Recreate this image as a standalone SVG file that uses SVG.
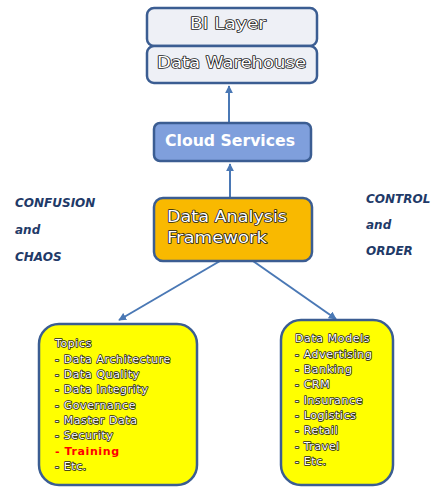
<svg xmlns="http://www.w3.org/2000/svg" width="448" height="497" viewBox="0 0 448 497">
<style>
.box{stroke:#3b5d92;stroke-width:2.5}
.top{fill:#eef0f6}
.ol{font-family:"DejaVu Sans",Verdana,sans-serif;fill:#ffffff;stroke:#1a1a1a;stroke-width:1.5;paint-order:stroke fill;stroke-linejoin:round}
.sm{font-size:11px;letter-spacing:0.6px}
.lbl{font-family:"DejaVu Sans",Verdana,sans-serif;font-size:12px;font-weight:bold;font-style:italic;fill:#1f3a68}
.conn{stroke:#4a78b5;stroke-width:2;fill:none}
</style>
<defs>
<marker id="ah" viewBox="0 0 10 10" refX="9" refY="5" markerWidth="4" markerHeight="4" orient="auto" markerUnits="strokeWidth">
<path d="M0,0 L10,5 L0,10 z" fill="#4a78b5"/>
</marker>
</defs>
<rect width="448" height="497" fill="#ffffff"/>
<g id="connectors">
<line class="conn" x1="229" y1="123" x2="229" y2="86" marker-end="url(#ah)"/>
<line class="conn" x1="230" y1="198" x2="230" y2="164" marker-end="url(#ah)"/>
<line class="conn" x1="220" y1="261" x2="119" y2="320" marker-end="url(#ah)"/>
<line class="conn" x1="253" y1="261" x2="336" y2="319" marker-end="url(#ah)"/>
</g>
<g id="bi-layer">
<rect class="box top" x="147" y="8" width="170" height="38" rx="7"/>
<text class="ol" x="228" y="29" font-size="15" text-anchor="middle" textLength="76" lengthAdjust="spacingAndGlyphs">BI Layer</text>
</g>
<g id="data-warehouse">
<rect class="box top" x="147" y="46" width="170" height="37" rx="7"/>
<text class="ol" x="157" y="68" font-size="15" textLength="149" lengthAdjust="spacingAndGlyphs">Data Warehouse</text>
</g>
<g id="cloud-services">
<rect class="box" x="154" y="123" width="157" height="38" rx="6" fill="#7f9fdc"/>
<text x="230" y="146" font-family="'DejaVu Sans',Verdana,sans-serif" font-size="16" font-weight="bold" fill="#ffffff" text-anchor="middle" textLength="130" lengthAdjust="spacingAndGlyphs">Cloud Services</text>
</g>
<g id="data-analysis-framework">
<rect class="box" x="154" y="198" width="158" height="63" rx="9" fill="#f9b900"/>
<text class="ol" x="167" y="222" font-size="16" textLength="120" lengthAdjust="spacingAndGlyphs">Data Analysis</text>
<text class="ol" x="167" y="243" font-size="16" textLength="100" lengthAdjust="spacingAndGlyphs">Framework</text>
</g>
<g id="label-left">
<text class="lbl" x="15" y="207">CONFUSION</text>
<text class="lbl" x="15" y="234">and</text>
<text class="lbl" x="15" y="261">CHAOS</text>
</g>
<g id="label-right">
<text class="lbl" x="366" y="203">CONTROL</text>
<text class="lbl" x="366" y="229">and</text>
<text class="lbl" x="366" y="255">ORDER</text>
</g>
<g id="topics">
<rect class="box" x="39" y="324" width="158" height="161" rx="20" fill="#ffff00"/>
<text class="ol sm" x="55" y="347">Topics</text>
<text class="ol sm" x="55" y="363">- Data Architecture</text>
<text class="ol sm" x="55" y="378">- Data Quality</text>
<text class="ol sm" x="55" y="393">- Data Integrity</text>
<text class="ol sm" x="55" y="409">- Governance</text>
<text class="ol sm" x="55" y="424">- Master Data</text>
<text class="ol sm" x="55" y="439">- Security</text>
<text x="55" y="455" font-family="'DejaVu Sans',Verdana,sans-serif" font-size="11" font-weight="bold" letter-spacing="0.6" fill="#ff0000">- Training</text>
<text class="ol sm" x="55" y="470">- Etc.</text>
</g>
<g id="data-models">
<rect class="box" x="281" y="320" width="112" height="165" rx="20" fill="#ffff00"/>
<text class="ol sm" x="295" y="342">Data Models</text>
<text class="ol sm" x="295" y="358">- Advertising</text>
<text class="ol sm" x="295" y="373">- Banking</text>
<text class="ol sm" x="295" y="388">- CRM</text>
<text class="ol sm" x="295" y="404">- Insurance</text>
<text class="ol sm" x="295" y="419">- Logistics</text>
<text class="ol sm" x="295" y="434">- Retail</text>
<text class="ol sm" x="295" y="450">- Travel</text>
<text class="ol sm" x="295" y="465">- Etc.</text>
</g>
</svg>
